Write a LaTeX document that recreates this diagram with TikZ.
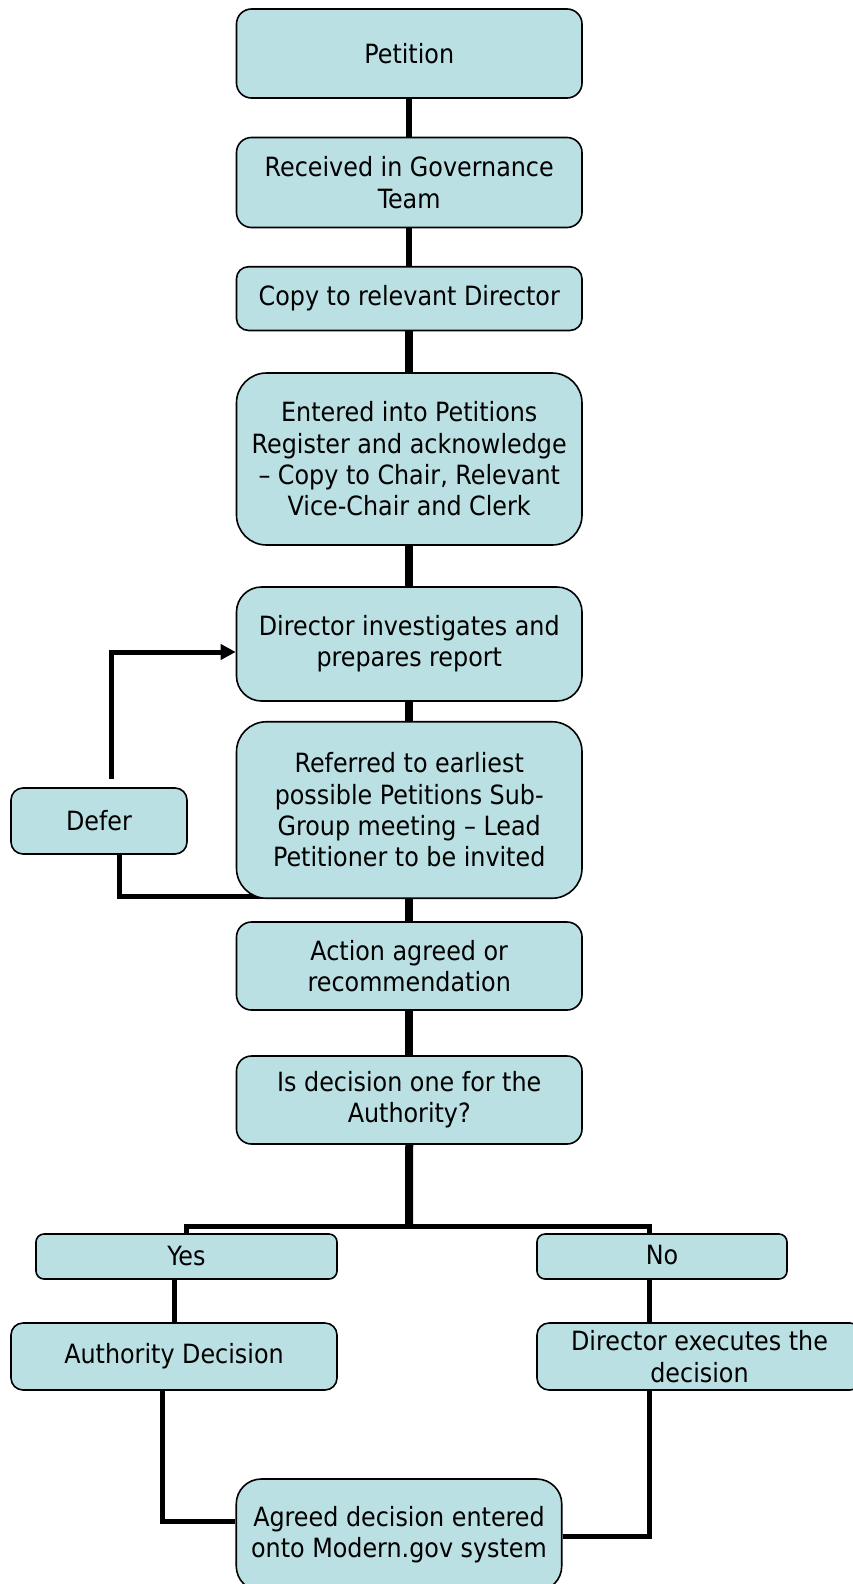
\documentclass[tikz,border=0pt]{standalone}
\usepackage{fontspec}
\setmainfont{DejaVu Sans Condensed}
\usetikzlibrary{arrows.meta,calc,backgrounds}
\definecolor{boxfill}{HTML}{BBE0E3}
\begin{document}
\begin{tikzpicture}[x=1pt,y=-1pt,
  box/.style={draw=black,line width=1.6pt,fill=boxfill,align=center,
    font=\fontsize{26.5}{31.3}\selectfont,inner sep=0pt},
  lnA/.style={line width=6pt,black},
  lnB/.style={line width=8pt,black},
  lnC/.style={line width=5pt,black},
]
\useasboundingbox (0,0) rectangle (853,1584);
\node[box,minimum width=345.5pt,minimum height=89pt,rounded corners=15pt] (pet) at (409.25,53.5) {Petition};
\node[box,minimum width=345.5pt,minimum height=90pt,rounded corners=15pt] (rec) at (409.25,182.5) {Received in Governance\\Team};
\node[box,minimum width=345.5pt,minimum height=63.7pt,rounded corners=12pt] (cop) at (409.25,298.6) {Copy to relevant Director};
\node[box,minimum width=345.5pt,minimum height=172pt,rounded corners=30pt] (ent) at (409.25,459) {Entered into Petitions\\Register and acknowledge\\– Copy to Chair, Relevant\\Vice-Chair and Clerk};
\node[box,minimum width=345.5pt,minimum height=114pt,rounded corners=25pt] (dir) at (409.25,644) {Director investigates and\\prepares report};
\node[box,minimum width=345.5pt,minimum height=176.5pt,rounded corners=30pt] (ref) at (409.25,810) {Referred to earliest\\possible Petitions Sub-\\Group meeting – Lead\\Petitioner to be invited};
\node[box,minimum width=176pt,minimum height=66pt,rounded corners=12pt] (def) at (99,821) {Defer};
\node[box,minimum width=345.5pt,minimum height=88pt,rounded corners=15pt] (act) at (409.25,966) {Action agreed or\\recommendation};
\node[box,minimum width=345.5pt,minimum height=88pt,rounded corners=15pt] (isd) at (409.25,1100) {Is decision one for the\\Authority?};
\node[box,minimum width=301pt,minimum height=45pt,rounded corners=8pt] (yes) at (186.5,1256.5) {Yes};
\node[box,minimum width=250pt,minimum height=45pt,rounded corners=8pt] (no) at (662,1256.5) {\raisebox{4pt}{No}};
\node[box,minimum width=326pt,minimum height=67pt,rounded corners=12pt] (aut) at (174,1356.5) {Authority Decision};
\node[box,minimum width=325pt,minimum height=67pt,rounded corners=12pt] (dex) at (699.5,1356.5) {Director executes the\\decision};
\node[box,minimum width=325.5pt,minimum height=112pt,rounded corners=25pt] (agr) at (399,1535) {Agreed decision entered\\onto Modern.gov system};

\coordinate (arry) at (0,652);
\coordinate (dtop) at (111,779);
\coordinate (dbot) at (119,854);
\coordinate (rend) at (394,896);
\coordinate (hy) at (409,1226);
\coordinate (nx) at (649,0);
\coordinate (ay) at (0,1521);
\coordinate (ax) at (162,0);
\coordinate (by) at (0,1536);

\begin{scope}[on background layer]
\draw[lnA] (pet.south) -- (rec.north);
\draw[lnA] (rec.south) -- (cop.north);
\draw[lnB] (cop.south) -- (ent.north);
\draw[lnB] (ent.south) -- (dir.north);
\draw[lnB] (dir.south) -- (ref.north);
\draw[lnB] (ref.south) -- (act.north);
\draw[lnB] (act.south) -- (isd.north);
\draw[lnB] (isd.south) -- (hy);
\draw[lnC] (dbot) |- (rend);
\draw[lnC] (yes.north) |- (hy) -| (no.north -| nx);
\draw[lnC] (aut.north) -- (yes.south -| aut.north);
\draw[lnC] (no.south -| nx) -- (dex.north -| nx);
\draw[lnC] (aut.south -| ax) |- (agr.west |- ay);
\draw[lnC] (dex.south -| nx) |- (agr.east |- by);
\end{scope}
\draw[lnC,-{Triangle[length=15pt,width=15pt]}] (dtop) |- (dir.west |- arry);
\end{tikzpicture}
\end{document}
